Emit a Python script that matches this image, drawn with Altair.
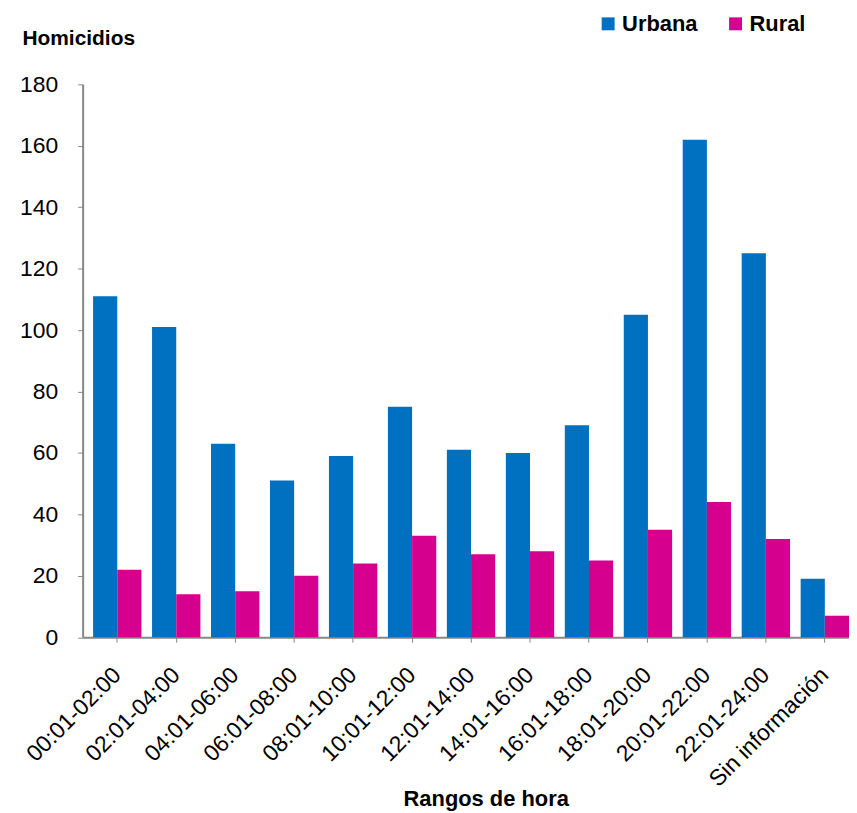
import altair as alt
import pandas as pd

categories = ["00:01-02:00", "02:01-04:00", "04:01-06:00", "06:01-08:00", "08:01-10:00",
              "10:01-12:00", "12:01-14:00", "14:01-16:00", "16:01-18:00", "18:01-20:00",
              "20:01-22:00", "22:01-24:00", "Sin información"]
urbana = [111, 101, 63, 51, 59, 75, 61, 60, 69, 105, 162, 125, 19]
rural = [22, 14, 15, 20, 24, 33, 27, 28, 25, 35, 44, 32, 7]
series = ["Urbana", "Rural"]
colors = ["#0070C0", "#D6008F"]
y_ticks = [0, 20, 40, 60, 80, 100, 120, 140, 160, 180]

rows = []
for c, u, r in zip(categories, urbana, rural):
    rows.append({"rango": c, "zona": "Urbana", "valor": u})
    rows.append({"rango": c, "zona": "Rural", "valor": r})
df = pd.DataFrame(rows)

FONT = "Liberation Sans"

chart = alt.Chart(df).mark_bar().encode(
    x=alt.X("rango:N", sort=categories,
            scale=alt.Scale(paddingInner=0.18, paddingOuter=0.0886, align=1),
            axis=alt.Axis(title="Rangos de hora", labelAngle=-45, labelFontSize=23,
                          labelFont=FONT, labelColor="black", labelPadding=29,
                          labelAlign="right", labelBaseline="middle",
                          tickColor="#868686", tickSize=5, domainColor="#868686",
                          domainWidth=2, titleFont=FONT, titleFontSize=22,
                          titleFontWeight="bold", titleColor="black",
                          titleX=405, titleY=162, titleAlign="center",
                          titleBaseline="middle", titleAnchor="start")),
    xOffset=alt.XOffset("zona:N", sort=series, scale=alt.Scale(paddingInner=0, paddingOuter=0)),
    y=alt.Y("valor:Q", scale=alt.Scale(domain=[0, 180], nice=False),
            axis=alt.Axis(title="Homicidios", values=y_ticks, labelFontSize=23,
                          labelFont=FONT, labelColor="black", labelPadding=20,
                          tickColor="#868686", tickSize=5, domainColor="#868686",
                          domainWidth=2, grid=False, titleFont=FONT, titleFontSize=21,
                          titleFontWeight="bold", titleColor="black", titleAngle=0,
                          titleX=-61, titleY=-45.8, titleAlign="left",
                          titleBaseline="middle", titleAnchor="start")),
    color=alt.Color("zona:N", sort=series,
                    scale=alt.Scale(domain=series, range=colors),
                    legend=alt.Legend(title=None, orient="none", direction="horizontal",
                                      legendX=517, legendY=-71.8, padding=0,
                                      symbolType="square", symbolSize=169,
                                      symbolStrokeWidth=0, labelFont=FONT,
                                      labelFontSize=22, labelFontWeight="bold",
                                      labelColor="black", labelOffset=3,
                                      columnPadding=27)),
).properties(
    width=770,
    height=555.5,
    autosize=alt.AutoSizeParams(type="none"),
    padding={"left": 75, "top": 74.8, "right": 0, "bottom": 174},
).configure_view(stroke=None)

chart.save("out.html", embed_options={"renderer": "svg", "actions": False})
